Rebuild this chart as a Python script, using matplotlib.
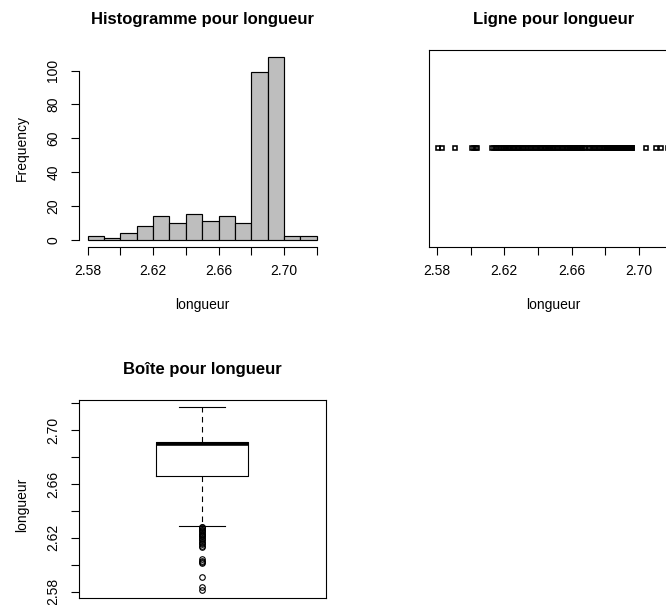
import numpy as np
import matplotlib
matplotlib.use("Agg")
import matplotlib.pyplot as plt

# distinct longueur values and how many times each one occurs (300 in total)
valeurs = [
    2.581, 2.583,
    2.591,
    2.601, 2.602, 2.603, 2.604,
    2.613, 2.614, 2.615, 2.616, 2.617, 2.618, 2.619, 2.620,
    2.621, 2.622, 2.623, 2.624, 2.625, 2.626, 2.627, 2.628, 2.629, 2.630,
    2.631, 2.632, 2.633, 2.634, 2.635, 2.636, 2.637, 2.638, 2.639, 2.640,
    2.641, 2.642, 2.643, 2.644, 2.645, 2.646, 2.647, 2.648, 2.649, 2.650,
    2.651, 2.652, 2.653, 2.654, 2.655, 2.656, 2.657, 2.658, 2.659, 2.660,
    2.661, 2.662, 2.663, 2.664, 2.665, 2.666, 2.667, 2.668, 2.670,
    2.671, 2.672, 2.673, 2.674, 2.675, 2.676, 2.677, 2.678, 2.679, 2.680,
    2.681, 2.682, 2.683, 2.684, 2.685, 2.686, 2.687, 2.688, 2.689, 2.690,
    2.691, 2.692, 2.693, 2.694, 2.695, 2.696,
    2.704, 2.710,
    2.713, 2.717,
]
effectifs = [
    1, 1,
    1,
    1, 1, 1, 1,
    1, 1, 1, 1, 1, 1, 1, 1,
    2, 1, 2, 1, 1, 2, 1, 2, 1, 1,
    1, 1, 1, 1, 1, 1, 1, 1, 1, 1,
    1, 2, 1, 2, 1, 2, 2, 1, 2, 1,
    1, 1, 1, 1, 1, 1, 1, 1, 2, 1,
    2, 2, 1, 2, 2, 2, 1, 1, 1,
    1, 1, 1, 1, 1, 1, 1, 1, 1, 1,
    3, 4, 5, 6, 6, 7, 8, 9, 10, 41,
    45, 26, 18, 10, 6, 3,
    1, 1,
    1, 1,
]

tick_vals = [2.58, 2.60, 2.62, 2.64, 2.66, 2.68, 2.70, 2.72]
tick_labs = ["2.58", "", "2.62", "", "2.66", "", "2.70", ""]
freq_ticks = [0, 20, 40, 60, 80, 100]

longueur = np.repeat(valeurs, effectifs)

W, H = 666, 605
plt.rcParams["font.family"] = ["Liberation Sans", "DejaVu Sans"]
plt.rcParams["font.size"] = 10
plt.rcParams["axes.linewidth"] = 0.8
plt.rcParams["xtick.major.size"] = 5.8
plt.rcParams["ytick.major.size"] = 5.8
plt.rcParams["xtick.major.width"] = 0.8
plt.rcParams["ytick.major.width"] = 0.8
plt.rcParams["xtick.major.pad"] = 6.5
plt.rcParams["ytick.major.pad"] = 7.2

fig = plt.figure(figsize=(W / 100, H / 100), dpi=100)


def px_axes(left, top, right, bottom):
    return fig.add_axes([left / W, 1 - bottom / H, (right - left) / W, (bottom - top) / H])


def r_range(v):
    lo, hi = float(np.min(v)), float(np.max(v))
    d = 0.04 * (hi - lo)
    return lo - d, hi + d


def rot_yticks(ax):
    for t in ax.get_yticklabels():
        t.set_rotation(90)
        t.set_va("center")


def add_labels(ax, title, xlab=None, ylab=None):
    ax.set_title(title, fontsize=12, fontweight="bold", pad=18.5)
    bb = ax.get_position()
    if xlab:
        fig.text(bb.x0 + bb.width / 2, 1 - 309 / H, xlab, ha="center", va="baseline")
    if ylab:
        fig.text(22 / W, bb.y0 + bb.height / 2, ylab, rotation=90, ha="center", va="center")


# histogram, R-style right-closed bins of width 0.01
milli = np.rint(longueur * 1000).astype(int)
edges = np.arange(2580, 2721, 10)
counts, _ = np.histogram(milli - 0.5, bins=edges)

ax1 = px_axes(78.5, 49.7, 325.9, 247)
ax1.bar(edges[:-1] / 1000, counts, width=0.01, align="edge",
        color="#bebebe", edgecolor="black", linewidth=0.85)
ax1.set_xlim(2.58 - 0.0056, 2.72 + 0.0056)
ax1.set_ylim(-0.04 * counts.max(), 1.04 * counts.max())
ax1.set_xticks(tick_vals, tick_labs)
ax1.set_yticks(freq_ticks, [str(v) for v in freq_ticks])
rot_yticks(ax1)
ax1.spines[["top", "right"]].set_visible(False)
ax1.spines["left"].set_bounds(0, 100)
ax1.spines["bottom"].set_bounds(2.58, 2.72)
add_labels(ax1, "Histogramme pour longueur", "longueur", "Frequency")

# strip chart
ax2 = px_axes(429.3, 49.5, 677, 247)
ax2.plot(longueur, np.ones_like(longueur), linestyle="none", marker="s",
         markersize=3.5, markerfacecolor="none", markeredgecolor="black",
         markeredgewidth=1.15)
ax2.set_xlim(*r_range(longueur))
ax2.set_ylim(0, 2)
ax2.set_xticks(tick_vals, tick_labs)
ax2.set_yticks([])
add_labels(ax2, "Ligne pour longueur", "longueur")

# box plot
ax3 = px_axes(78.5, 400, 326, 597.5)
ax3.boxplot(longueur, positions=[1], widths=0.4, whis=1.5,
            boxprops=dict(color="black", linewidth=0.8),
            medianprops=dict(color="black", linewidth=2.6),
            whiskerprops=dict(color="black", linewidth=0.8, linestyle=(0, (5, 4))),
            capprops=dict(color="black", linewidth=0.8),
            flierprops=dict(marker="o", markersize=4.0, markerfacecolor="none",
                            markeredgecolor="black", markeredgewidth=0.8))
ax3.set_xlim(0.46, 1.54)
ax3.set_ylim(*r_range(longueur))
ax3.set_xticks([])
ax3.set_yticks(tick_vals, tick_labs)
rot_yticks(ax3)
ax3.set_title("Boîte pour longueur", fontsize=12, fontweight="bold", pad=18.5)
fig.text(22 / W, 1 - 505 / H, "longueur", rotation=90, ha="center", va="center")

fig.savefig("out.png", dpi=100)
